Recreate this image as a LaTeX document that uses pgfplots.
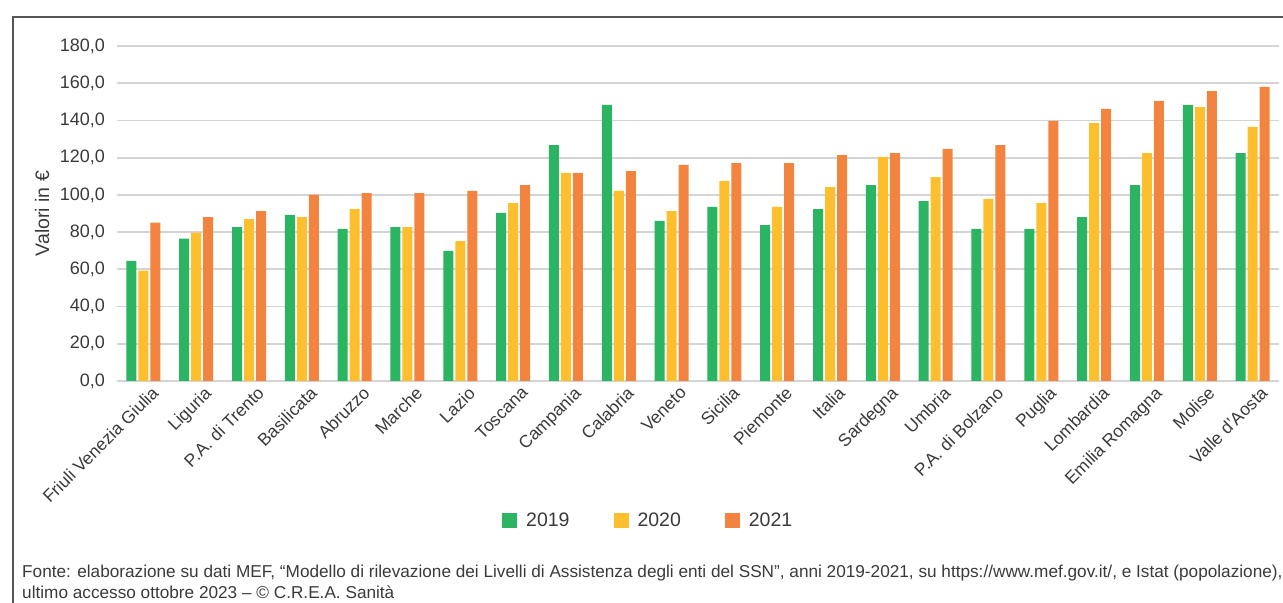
\documentclass[border=0pt]{standalone}
\usepackage{pgfplots}
\pgfplotsset{compat=1.18}
\usepackage{fontspec}
\setmainfont{Liberation Sans}
\definecolor{cA}{HTML}{2BB462}
\definecolor{cB}{HTML}{FDBF2D}
\definecolor{cC}{HTML}{F2843F}
\definecolor{txt}{HTML}{3A3A3A}
\definecolor{gridc}{HTML}{D4D4D4}
\definecolor{framec}{HTML}{555555}
\begin{document}
\begin{tikzpicture}
\useasboundingbox (0,0) rectangle (1283bp,603bp);
\draw[line width=1.2bp, framec] (13bp,0) -- (13bp,586bp) -- (1283bp,586bp);
\begin{axis}[
  at={(117bp,222bp)}, anchor=south west,
  scale only axis, width=1162bp, height=335bp,
  xmin=-0.5, xmax=21.5, ymin=0, ymax=180,
  ybar=2bp, bar width=10bp,
  axis line style={draw=none},
  major tick length=0pt,
  ytick={0,20,...,180},
  ymajorgrids, grid style={gridc, line width=1.8bp},
  xtick=data,
  xticklabels={Friuli Venezia Giulia, Liguria, P.A. di Trento, Basilicata, Abruzzo, Marche, Lazio, Toscana, Campania, Calabria, Veneto, Sicilia, Piemonte, Italia, Sardegna, Umbria, P.A. di Bolzano, Puglia, Lombardia, Emilia Romagna, Molise, Valle d'Aosta},
  xticklabel style={rotate=45, anchor=north east, inner sep=0pt, xshift=2bp, yshift=-8bp, font=\fontsize{17.5bp}{20bp}\selectfont, txt},
  yticklabel style={anchor=east, inner sep=0pt, xshift=-12bp, font=\fontsize{18bp}{20bp}\selectfont, txt},
  /pgf/number format/.cd, fixed, fixed zerofill, precision=1, use comma, assume math mode=true, 1000 sep={},
  /pgfplots/.cd,
  ylabel={Valori in €},
  ylabel style={at={(axis description cs:-0.0645,0.5)}, anchor=center, rotate=0, font=\fontsize{19.5bp}{20bp}\selectfont, txt},
  legend style={draw=none, fill=none, inner sep=0pt, legend columns=3,
    at={(axis description cs:0.3313,-0.415)}, anchor=west,
    font=\fontsize{19.5bp}{22bp}\selectfont, text=txt,
    /tikz/every odd column/.append style={column sep=7bp},
    /tikz/every even column/.append style={column sep=42bp}},
  legend image code/.code={\fill[#1] (0bp,-7.5bp) rectangle (15bp,7.5bp);},
  clip=false,
]
\addplot[fill=cA, draw=none] coordinates {
(0,64.6) (1,76.5) (2,82.7) (3,89.2) (4,81.7) (5,82.7) (6,69.9) (7,90.3) (8,126.8) (9,148.3) (10,86.0)
(11,93.5) (12,83.8) (13,92.4) (14,105.3) (15,96.7) (16,81.7) (17,81.7) (18,88.1) (19,105.3) (20,148.3) (21,122.5)};
\addplot[fill=cB, draw=none] coordinates {
(0,59.3) (1,79.7) (2,87.0) (3,88.1) (4,92.4) (5,82.7) (6,75.2) (7,95.6) (8,111.8) (9,102.1) (10,91.3)
(11,107.5) (12,93.5) (13,104.2) (14,120.4) (15,109.6) (16,97.8) (17,95.6) (18,138.6) (19,122.5) (20,147.2) (21,136.5)};
\addplot[fill=cC, draw=none] coordinates {
(0,85.1) (1,88.1) (2,91.3) (3,100.0) (4,101.0) (5,101.0) (6,102.1) (7,105.3) (8,111.8) (9,112.8) (10,116.1)
(11,117.1) (12,117.1) (13,121.4) (14,122.5) (15,124.7) (16,126.8) (17,139.7) (18,146.2) (19,150.5) (20,155.8) (21,158.0)};
\legend{2019,2020,2021}
\end{axis}
\node[anchor=base west, inner sep=0pt, txt, font=\fontsize{17.2bp}{22bp}\selectfont] at (22bp,26bp) {Fonte: elaborazione su dati MEF, “Modello di rilevazione dei Livelli di Assistenza degli enti del SSN”, anni 2019-2021, su https://www.mef.gov.it/, e Istat (popolazione),};
\node[anchor=base west, inner sep=0pt, txt, font=\fontsize{17.2bp}{22bp}\selectfont] at (22bp,5bp) {ultimo accesso ottobre 2023 – © C.R.E.A. Sanità};
\end{tikzpicture}
\end{document}
